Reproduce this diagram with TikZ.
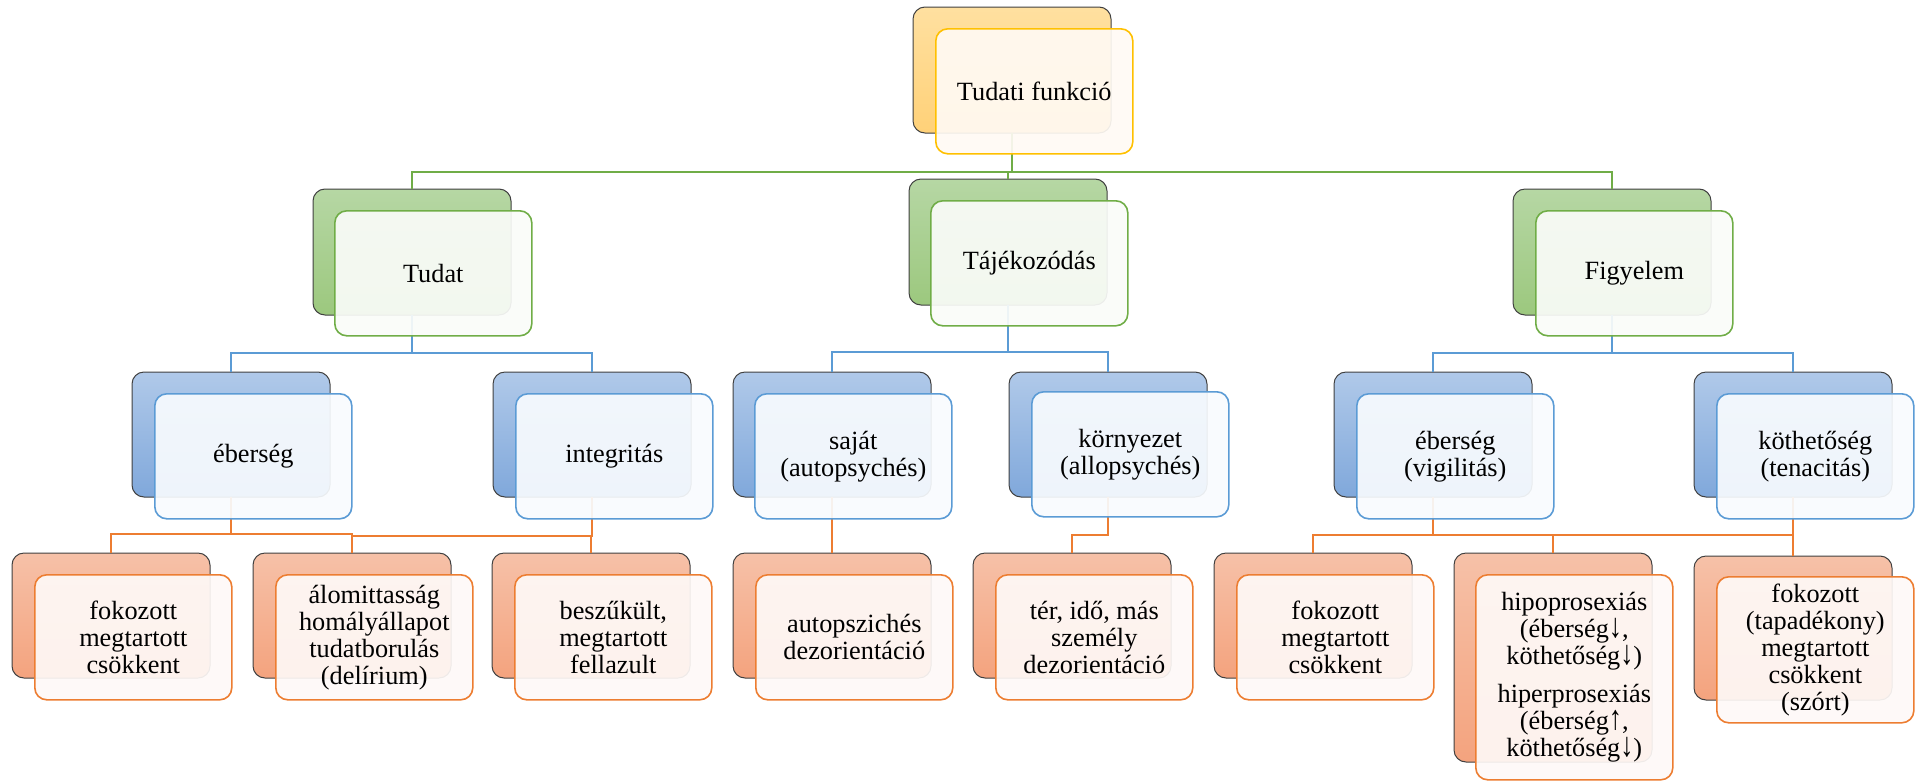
\documentclass[tikz,border=0pt]{standalone}
\usepackage{fontspec}
\usepackage{graphicx}
\setmainfont{Liberation Serif}
\newcommand\diagfont{\fontsize{26.3}{27}\selectfont}
\newcommand\dnarr{\smash{\scalebox{1}[1.3]{↓}}}
\newcommand\uparr{\smash{\scalebox{1}[1.3]{↑}}}
\definecolor{backline}{RGB}{64,64,64}
\definecolor{yT}{RGB}{255,224,160}\definecolor{yB}{RGB}{255,209,120}\definecolor{yL}{RGB}{255,192,0}\definecolor{yF}{RGB}{255,250,244}
\definecolor{gT}{RGB}{182,215,164}\definecolor{gB}{RGB}{156,200,126}\definecolor{gL}{RGB}{112,173,71}\definecolor{gF}{RGB}{250,252,249}
\definecolor{bT}{RGB}{176,201,233}\definecolor{bB}{RGB}{128,168,219}\definecolor{bL}{RGB}{91,155,213}\definecolor{bF}{RGB}{248,251,254}
\definecolor{oT}{RGB}{246,193,168}\definecolor{oB}{RGB}{244,163,126}\definecolor{oL}{RGB}{237,125,49}\definecolor{oF}{RGB}{254,249,247}
\tikzset{
  back/.style={draw=backline, line width=1pt, rounded corners=12pt, anchor=north west, minimum width=198pt, inner sep=0pt, outer sep=0pt},
  backY/.style={back, top color=yT, bottom color=yB},
  backG/.style={back, top color=gT, bottom color=gB},
  backB/.style={back, top color=bT, bottom color=bB},
  backO/.style={back, top color=oT, bottom color=oB},
  front/.style={line width=1.6pt, rounded corners=12pt, anchor=north west, minimum width=197pt, inner sep=0pt, fill opacity=0.92, text opacity=1, align=center, font=\diagfont},
  frontY/.style={front, draw=yL, fill=yF},
  frontG/.style={front, draw=gL, fill=gF},
  frontB/.style={front, draw=bL, fill=bF},
  frontO/.style={front, draw=oL, fill=oF},
  link/.style={line width=2.6pt},
  linkG/.style={link, draw=gL},
  linkB/.style={link, draw=bL},
  linkO/.style={link, draw=oL},
}
\begin{document}
\begin{tikzpicture}[x=1pt,y=-1pt]
\useasboundingbox (0,0) rectangle (1919,782);
% back boxes
\node[backY, minimum height=126pt] (b0) at (913,7) {};
\node[backG, minimum height=126pt] (b1) at (313,189) {};
\node[backG, minimum height=126pt] (b2) at (909,179) {};
\node[backG, minimum height=126pt] (b3) at (1513,189) {};
\node[backB, minimum height=125pt] (b11) at (132,372) {};
\node[backB, minimum height=125pt] (b12) at (493,372) {};
\node[backB, minimum height=125pt] (b21) at (733,372) {};
\node[backB, minimum height=125pt] (b22) at (1009,372) {};
\node[backB, minimum height=125pt] (b31) at (1334,372) {};
\node[backB, minimum height=125pt] (b32) at (1694,372) {};
\node[backO, minimum height=125pt] (c1) at (12,553) {};
\node[backO, minimum height=125pt] (c2) at (253,553) {};
\node[backO, minimum height=125pt] (c3) at (492,553) {};
\node[backO, minimum height=125pt] (c4) at (733,553) {};
\node[backO, minimum height=125pt] (c5) at (973,553) {};
\node[backO, minimum height=125pt] (c6) at (1214,553) {};
\node[backO, minimum height=209pt] (c7) at (1454,553) {};
\node[backO, minimum height=144pt] (c8) at (1694,556) {};
% connectors
\draw[linkG] (b0.south) -- ++(0,39) -| (b1.north);
\draw[linkG] (b0.south) -- ++(0,39) -| (b2.north);
\draw[linkG] (b0.south) -- ++(0,39) -| (b3.north);
\draw[linkB] (b1.south) -- ++(0,38) -| (b11.north);
\draw[linkB] (b1.south) -- ++(0,38) -| (b12.north);
\draw[linkB] (b2.south) -- ++(0,47) -| (b21.north);
\draw[linkB] (b2.south) -- ++(0,47) -| (b22.north);
\draw[linkB] (b3.south) -- ++(0,38) -| (b31.north);
\draw[linkB] (b3.south) -- ++(0,38) -| (b32.north);
\draw[linkO] (b11.south) -- ++(0,37) -| (c1.north);
\draw[linkO] (b11.south) -- ++(0,37) -| (c2.north);
\draw[linkO] (b12.south) -- ++(0,39) -| (c2.north);
\draw[linkO] (b12.south) -- ++(0,39) -| (c3.north);
\draw[linkO] (b21.south) -- (c4.north);
\draw[linkO] (b22.south) -- ++(0,38) -| (c5.north);
\draw[linkO] (b31.south) -- ++(0,38) -| (c6.north);
\draw[linkO] (b31.south) -- ++(0,38) -| (c7.north);
\draw[linkO] (b32.south) -- ++(0,38) -| (c7.north);
\draw[linkO] (b32.south) -- ++(0,38) -| (c8.north);
% front boxes
\node[frontY, minimum height=125pt] (f0) at (935,28) {Tudati funkció};
\node[frontG, minimum height=125pt] (f1) at (334,210) {Tudat};
\node[frontG, minimum height=125pt] (f2) at (930,200) {Tájékozódás};
\node[frontG, minimum height=125pt] (f3) at (1535,210) {Figyelem};
\node[frontB, minimum height=125pt] (f11) at (154,393) {éberség};
\node[frontB, minimum height=125pt] (f12) at (515,393) {integritás};
\node[frontB, minimum height=125pt] (f21) at (754,393) {saját\\(autopsychés)};
\node[frontB, minimum height=125pt] (f22) at (1031,391) {környezet\\(allopsychés)};
\node[frontB, minimum height=125pt] (f31) at (1356,393) {éberség\\(vigilitás)};
\node[frontB, minimum height=125pt] (f32) at (1716,393) {köthetőség\\(tenacitás)};
\node[frontO, minimum height=125pt] (g1) at (34,574) {fokozott\\megtartott\\csökkent};
\node[frontO, minimum height=125pt] (g2) at (275,574) {álomittasság\\homályállapot\\tudatborulás\\(delírium)};
\node[frontO, minimum height=125pt] (g3) at (514,574) {beszűkült,\\megtartott\\fellazult};
\node[frontO, minimum height=125pt] (g4) at (755,574) {autopszichés\\dezorientáció};
\node[frontO, minimum height=125pt] (g5) at (995,574) {tér, idő, más\\személy\\dezorientáció};
\node[frontO, minimum height=125pt] (g6) at (1236,574) {fokozott\\megtartott\\csökkent};
\node[frontO, minimum height=205pt] (g7) at (1475,574) {hipoprosexiás\\(éberség\dnarr,\\köthetőség\dnarr)\\[11pt]hiperprosexiás\\(éberség\uparr,\\köthetőség\dnarr)};
\node[frontO, minimum height=146pt] (g8) at (1716,576) {fokozott\\(tapadékony)\\megtartott\\csökkent\\(szórt)};
\end{tikzpicture}
\end{document}
